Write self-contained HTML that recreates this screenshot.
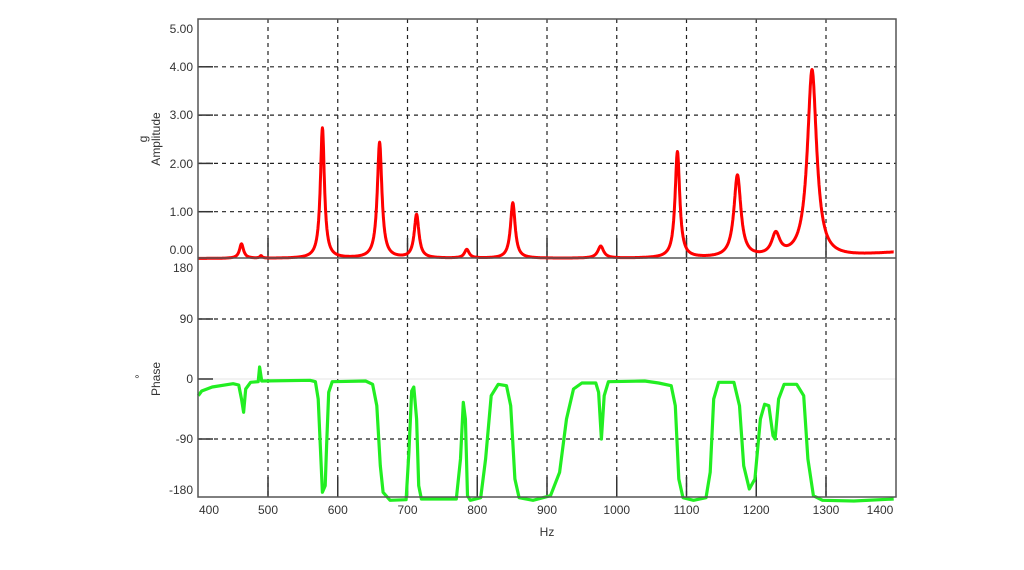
<!DOCTYPE html>
<html><head><meta charset="utf-8"><style>
html,body{margin:0;padding:0;background:#fff;}
svg{display:block;font-family:"Liberation Sans",sans-serif;}
</style></head><body>
<svg id="s" width="1024" height="570" viewBox="0 0 1024 570" xmlns="http://www.w3.org/2000/svg">
<rect width="1024" height="570" fill="#fff"/>
<line x1="198" y1="379" x2="896" y2="379" stroke="#e4e4e4" stroke-width="1"/>
<g id="grid" stroke="#222" stroke-width="1.2" stroke-dasharray="4,4"></g>
<g id="ticks" stroke="#333" stroke-width="1.5"></g>
<path id="amp" fill="none" stroke="#ff0000" stroke-width="3" stroke-linejoin="round"/>
<path id="ph" fill="none" stroke="#22ee22" stroke-width="3.2" stroke-linejoin="round"/>
<rect x="198" y="19" width="698" height="478" fill="none" stroke="#555" stroke-width="1.5"/>
<line x1="198" y1="258" x2="896" y2="258" stroke="#555" stroke-width="1.5"/>
<g id="lab" font-size="12" fill="#333"></g>
<text transform="translate(160,139) rotate(-90)" font-size="12" fill="#333" text-anchor="middle">Amplitude</text>
<text transform="translate(147,139) rotate(-90)" font-size="12" fill="#333" text-anchor="middle">g</text>
<text transform="translate(160,379) rotate(-90)" font-size="12" fill="#333" text-anchor="middle">Phase</text>
<text x="137" y="383" font-size="12" fill="#333" text-anchor="middle">°</text>
<text x="547" y="536" font-size="12" fill="#333" text-anchor="middle">Hz</text>
</svg>
<script>
var X=function(f){return 198.25+(f-400)*0.6975;};
var YA=function(a){return 260-48.3*a;};
var YP=function(p){return 379-p*0.6667;};
var ns="http://www.w3.org/2000/svg";
function el(par,tag,at,txt){var e=document.createElementNS(ns,tag);for(var k in at)e.setAttribute(k,at[k]);if(txt!=null)e.textContent=txt;document.getElementById(par).appendChild(e);}
for(var f=500;f<=1300;f+=100){var x=X(f);el('grid','line',{x1:x,y1:19,x2:x,y2:497});el('ticks','line',{x1:x,y1:477,x2:x,y2:497});el('ticks','line',{x1:x,y1:238,x2:x,y2:258});}
[1,2,3,4].forEach(function(a){var y=YA(a);el('grid','line',{x1:198,y1:y,x2:896,y2:y});el('ticks','line',{x1:198,y1:y,x2:213,y2:y});});
[90,-90].forEach(function(p){var y=YP(p);el('grid','line',{x1:198,y1:y,x2:896,y2:y});el('ticks','line',{x1:198,y1:y,x2:213,y2:y});});
el('ticks','line',{x1:198,y1:379,x2:213,y2:379});
[["5.00",33],["4.00",71],["3.00",119],["2.00",168],["1.00",216],["0.00",254]].forEach(function(t){el('lab','text',{x:193,y:t[1],'text-anchor':'end'},t[0]);});
[["180",272],["90",323],["0",383],["-90",443],["-180",494]].forEach(function(t){el('lab','text',{x:193,y:t[1],'text-anchor':'end'},t[0]);});
for(var f=400;f<=1400;f+=100){var x=X(f);if(f==400)x=209;if(f==1400)x=880;el('lab','text',{x:x,y:514,'text-anchor':'middle'},String(f));}
var pk=[[462,.3,3.5],[490,.05,2],[578,2.7,3.5],[660,2.4,4],[713,.9,4],[785,.18,4],[851,1.15,4],[977,.25,5],[1087,2.2,4],[1173,1.7,6],[1228,.45,7],[1280,3.9,8]];
var d="";
for(var f=400;f<=1397;f+=0.5){var a=0.03+Math.max(0,(f-1300))*0.0012;
pk.forEach(function(p){var u=(f-p[0])/p[2];a+=p[1]/(1+u*u);});
a=Math.min(a,4.1);d+=(d?"L":"M")+X(f).toFixed(1)+","+YA(a).toFixed(1);}
document.getElementById('amp').setAttribute('d',d);
var P=[[400,-25],[405,-18],[420,-12],[450,-7],[458,-9],[462,-30],[465,-50],[468,-15],[475,-5],[486,-4],[488,18],[491,-3],[560,-2],[568,-4],[572,-30],[575,-100],[578,-170],[582,-160],[584,-100],[587,-20],[592,-4],[640,-3],[650,-8],[656,-40],[661,-130],[665,-170],[675,-182],[698,-181],[702,-110],[706,-18],[709,-12],[713,-60],[716,-160],[720,-180],[770,-180],[776,-120],[780,-35],[783,-60],[786,-175],[790,-182],[805,-178],[812,-120],[820,-25],[830,-8],[842,-10],[848,-40],[854,-150],[860,-178],[880,-182],[905,-175],[918,-140],[928,-60],[938,-15],[950,-6],[970,-6],[974,-20],[978,-90],[982,-25],[988,-4],[1040,-3],[1060,-6],[1078,-10],[1084,-40],[1089,-150],[1095,-178],[1110,-182],[1128,-178],[1134,-140],[1139,-30],[1146,-5],[1168,-5],[1176,-40],[1182,-130],[1190,-165],[1198,-150],[1206,-60],[1212,-38],[1218,-40],[1224,-85],[1227,-90],[1232,-30],[1240,-8],[1258,-8],[1268,-25],[1274,-120],[1282,-175],[1295,-182],[1340,-183],[1397,-180]];
var q="";P.forEach(function(p){q+=(q?"L":"M")+X(p[0]).toFixed(1)+","+YP(p[1]).toFixed(1);});
document.getElementById('ph').setAttribute('d',q);
</script>
</body></html>
